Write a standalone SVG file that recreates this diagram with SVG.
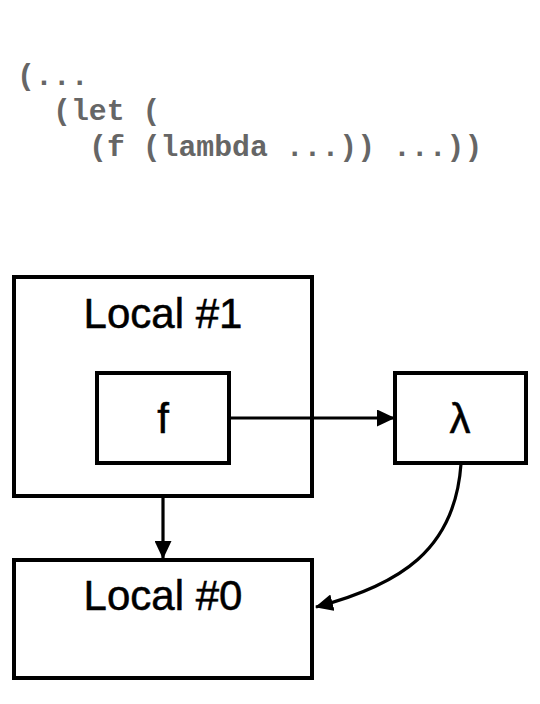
<svg xmlns="http://www.w3.org/2000/svg" width="540" height="704" viewBox="0 0 540 704">
<defs>
<marker id="arrL" markerWidth="18" markerHeight="17" refX="17" refY="8.5" orient="auto" markerUnits="userSpaceOnUse" viewBox="0 0 18 17">
<path d="M0,0 L18,8.5 L0,17 Z" fill="#000"/>
</marker>
</defs>
<style>
.box{fill:#fff;stroke:#000;stroke-width:4}
.code{font-family:"Liberation Mono","Courier New",monospace;font-weight:bold;font-size:29.8px;fill:#666}
.lbl{font-family:"Liberation Sans",Arial,sans-serif;font-size:42px;fill:#000;stroke:#000;stroke-width:0.5;text-anchor:middle}
.edge{fill:none;stroke:#000;stroke-width:3.2}
</style>
<rect width="540" height="704" fill="#fff"/>
<g id="code">
<text class="code" x="17" y="85">(...</text>
<text class="code" x="53" y="120">(let (</text>
<text class="code" x="89" y="156">(f (lambda ...)) ...))</text>
</g>
<g id="local1">
<rect class="box" x="14" y="277" width="298" height="219"/>
<text class="lbl" x="163" y="328">Local #1</text>
</g>
<g id="f">
<rect class="box" x="97" y="373" width="132" height="90"/>
<text class="lbl" x="163" y="433">f</text>
</g>
<g id="lambda">
<rect class="box" x="395" y="373" width="131" height="90"/>
<text class="lbl" x="460" y="433">λ</text>
</g>
<g id="local0">
<rect class="box" x="14" y="560" width="298" height="118"/>
<text class="lbl" x="163" y="610">Local #0</text>
</g>
<g id="connectors">
<line class="edge" x1="229" y1="418" x2="394" y2="418" marker-end="url(#arrL)"/>
<line class="edge" x1="163" y1="497" x2="163" y2="558" marker-end="url(#arrL)"/>
<path class="edge" d="M461,464 C455,550 400,585 316,607" marker-end="url(#arrL)"/>
</g>
</svg>
